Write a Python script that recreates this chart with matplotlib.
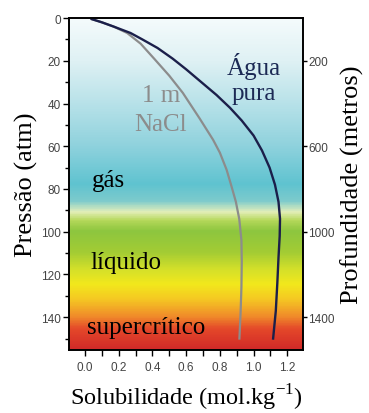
import matplotlib
matplotlib.use('Agg')
import matplotlib.pyplot as plt
import numpy as np
from matplotlib.colors import LinearSegmentedColormap

# curvas de solubilidade (mol/kg) x pressao (atm)
agua_p = [0.5, 2, 4, 7, 10, 14, 19, 24, 30, 36, 42, 48, 55, 62, 70, 78, 86, 94, 102, 112, 124, 137, 150]
agua_sol = [0.04, 0.10, 0.17, 0.27, 0.34, 0.43, 0.52, 0.60, 0.69, 0.78, 0.86, 0.93, 1.00,
            1.05, 1.095, 1.127, 1.148, 1.157, 1.155, 1.148, 1.141, 1.132, 1.116]

nacl_p = [0.5, 2, 4, 7, 12, 19, 27, 35, 41, 47, 52, 57, 63, 71, 79, 86, 94, 104, 114, 126, 138, 150]
nacl_sol = [0.04, 0.10, 0.17, 0.25, 0.33, 0.41, 0.50, 0.58, 0.63, 0.68, 0.72, 0.76, 0.80,
            0.84, 0.87, 0.895, 0.915, 0.928, 0.93, 0.928, 0.923, 0.916]

# fundo em degrade (pressao, cor)
fundo_p = [0, 20, 40, 60, 78, 86, 91, 95, 100, 110, 118, 125, 132, 140, 146, 155.4]
fundo_cor = ['#f5fbfc', '#dff1f4', '#b8e2e9', '#8fd2dd', '#5fc3d0', '#7ecbcc', '#e4efba',
             '#b5d85a', '#8dc63f', '#a3cc34', '#d4e02a', '#f2e81c', '#f5c823', '#f08c2a',
             '#e4482a', '#d22a28']

yticks_esq = [0, 20, 40, 60, 80, 100, 120, 140]
yticks_dir = [200, 600, 1000, 1400]

serif = ['Liberation Serif', 'DejaVu Serif']
sans = ['Liberation Sans', 'DejaVu Sans']

fig = plt.figure(figsize=(3.69, 4.14), dpi=100)
ax = fig.add_axes([0.187, 0.152, 0.634, 0.802])

ymax = 155.4
xmin, xmax = -0.095, 1.293
pos = [p / ymax for p in fundo_p]
cmap = LinearSegmentedColormap.from_list('fundo', list(zip(pos, fundo_cor)))
grad = np.linspace(0, 1, 400).reshape(-1, 1)
ax.imshow(grad, cmap=cmap, aspect='auto', extent=[xmin, xmax, ymax, 0],
          origin='upper', zorder=0, interpolation='bilinear')

ax.plot(nacl_sol, nacl_p, color='#8c8c8c', lw=1.6, zorder=2, solid_joinstyle='round')
ax.plot(agua_sol, agua_p, color='#1b1f4a', lw=1.7, zorder=3, solid_joinstyle='round')

ax.set_xlim(xmin, xmax)
ax.set_ylim(ymax, 0)

ax.set_xticks(np.arange(0, 1.21, 0.2))
ax.set_xticks(np.arange(0.1, 1.3, 0.2), minor=True)
ax.set_yticks(yticks_esq)
ax.set_yticks([10, 30, 50, 70, 90, 110, 130, 150], minor=True)
ax.tick_params(axis='both', which='both', direction='out', length=4, width=1,
               labelsize=8.5, labelcolor='#444444', pad=2)
ax.tick_params(axis='x', which='major', pad=4)
ax.tick_params(axis='y', which='minor', length=3)
for lab in ax.get_xticklabels() + ax.get_yticklabels():
    lab.set_family(sans)
for s in ax.spines.values():
    s.set_linewidth(1.2)

ax2 = ax.twinx()
ax2.set_ylim(ymax * 10, 0)
ax2.set_yticks(yticks_dir)
ax2.tick_params(axis='y', direction='out', length=3, width=1,
                labelsize=8.5, labelcolor='#444444', pad=1)
for lab in ax2.get_yticklabels():
    lab.set_family(sans)
for s in ax2.spines.values():
    s.set_linewidth(1.2)

ax.set_ylabel('Pressão (atm)', fontsize=19, family=serif, labelpad=2)
ax2.set_ylabel('Profundidade (metros)', fontsize=19, family=serif, labelpad=4)
ax.set_xlabel('Solubilidade (mol.kg$^{\\mathregular{-1}}$)', fontsize=17.5, family=serif, labelpad=6)

ax.text(1.0, 22, 'Água', fontsize=18, family=serif, color='#1c2a55', ha='center', va='center')
ax.text(1.0, 35, 'pura', fontsize=18, family=serif, color='#1c2a55', ha='center', va='center')
ax.text(0.45, 36, '1 m', fontsize=18, family=serif, color='#8c8c8c', ha='center', va='center')
ax.text(0.45, 49.5, 'NaCl', fontsize=18, family=serif, color='#8c8c8c', ha='center', va='center')
ax.text(0.04, 76, 'gás', fontsize=18, family=serif, color='black', ha='left', va='center')
ax.text(0.03, 114, 'líquido', fontsize=18, family=serif, color='black', ha='left', va='center')
ax.text(0.012, 144.5, 'supercrítico', fontsize=18, family=serif, color='black', ha='left', va='center')

fig.savefig('out.png', dpi=100)
